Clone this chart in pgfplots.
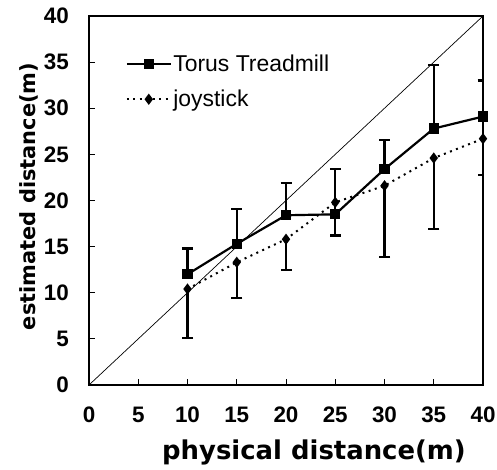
\documentclass[border=0pt]{standalone}
\usepackage{fontspec}
\setmainfont{Liberation Sans}
\newfontfamily\labfont{DejaVu Sans}
\usepackage{pgfplots}
\pgfplotsset{compat=1.18}

\begin{document}
\begin{tikzpicture}
\begin{axis}[
  name=ax,
  scale only axis,
  width=394bp, height=369bp,
  xmin=0, xmax=40, ymin=0, ymax=40,
  xtick={0,5,...,40}, ytick={0,5,...,40},
  tick align=inside, tick pos=left,
  major tick length=6bp,
  axis line style={line width=1.3pt},
  tick style={line width=1pt, black},
  /pgf/number format/assume math mode=true,
  tick label style={font=\bfseries\fontsize{22.5}{24}\selectfont, inner sep=0pt},
  xticklabel style={anchor=north, yshift=-22bp},
  yticklabel style={anchor=east, xshift=-20bp},
  xlabel={physical distance(m)},
  ylabel={estimated distance(m)},
  xlabel style={font=\labfont\bfseries\fontsize{26}{28}\selectfont,
    at={(axis description cs:0.571,-0.203)}, anchor=base},
  ylabel style={font=\labfont\bfseries\fontsize{21}{23}\selectfont,
    at={(axis description cs:-0.135,0.511)}, anchor=base},
  legend style={draw=none, fill=none, at={(axis description cs:0.085,0.822)},
    anchor=west, font=\fontsize{23}{25}\selectfont, row sep=14bp,
    nodes={inner sep=1.5bp}},
  legend cell align=left,
  legend image code/.code={
    \draw[mark repeat=2, mark phase=2, #1]
      plot coordinates {(0bp,0bp) (22bp,0bp) (44bp,0bp)};},
]
\addplot[black, line width=0.7pt, forget plot] coordinates {(0,0) (40,40)};
\addplot[black, line width=2.2pt, mark=square*, mark size=4bp,
  error bars/.cd, y dir=plus, y explicit, error bar style={line width=2.2pt},
  error mark options={rotate=90, mark size=5.5bp, line width=2.2pt}]
  coordinates {
  (10,12.0) +- (0,2.8)
  (15,15.3) +- (0,3.8)
  (20,18.4) +- (0,3.5)
  (25,18.5) +- (0,4.9)
  (30,23.4) +- (0,3.2)
  (35,27.8) +- (0,6.9)
  (40,29.1) +- (0,3.9)
};
\addlegendentry{Torus Treadmill}
\addplot[black, line width=2pt, dash pattern=on 2pt off 4.5pt,
  mark=diamond*, mark size=4bp, mark options={solid},
  error bars/.cd, y dir=minus, y explicit, error bar style={line width=2.2pt, solid},
  error mark options={rotate=90, mark size=5.5bp, line width=2.2pt}]
  coordinates {
  (10,10.4) +- (0,5.3)
  (15,13.3) +- (0,3.9)
  (20,15.8) +- (0,3.3)
  (25,19.8) +- (0,3.6)
  (30,21.6) +- (0,7.7)
  (35,24.6) +- (0,7.7)
  (40,26.7) +- (0,3.9)
};
\addlegendentry{joystick}
\end{axis}
\pgfresetboundingbox
\path (ax.south west) ++(-89bp,-85bp) rectangle ++(497bp,470bp);
\end{tikzpicture}
\end{document}
